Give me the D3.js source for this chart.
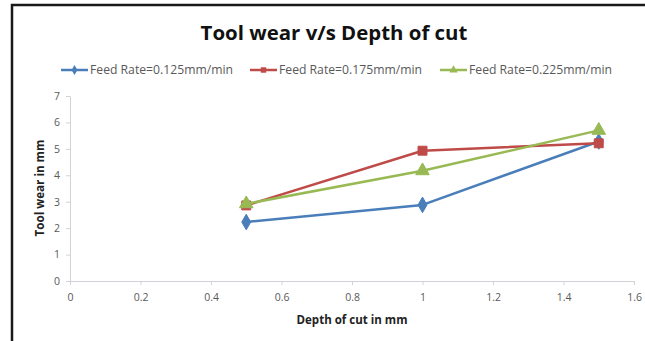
<!DOCTYPE html>
<html>
<head>
<meta charset="utf-8">
<script src="https://cdn.jsdelivr.net/npm/d3@7"></script>
<style>
  html, body { margin: 0; padding: 0; background: #fff; }
  svg { display: block; }
  text { font-family: "Open Sans", Lato, "Liberation Sans", sans-serif; }
</style>
</head>
<body>
<svg id="chart" width="645" height="341"></svg>
<script>
// Depth of cut (mm) at which tool wear was measured
const depthOfCut = [0.5, 1.0, 1.5];
// Tool wear (mm) for each feed rate
const wearFeed125 = [2.23, 2.88, 5.28];
const wearFeed175 = [2.86, 4.93, 5.21];
const wearFeed225 = [2.92, 4.17, 5.70];
const seriesNames = ["Feed Rate=0.125mm/min", "Feed Rate=0.175mm/min", "Feed Rate=0.225mm/min"];
const xTicks = [0, 0.2, 0.4, 0.6, 0.8, 1, 1.2, 1.4, 1.6];
const yTicks = [0, 1, 2, 3, 4, 5, 6, 7];

const colors = ["#4A7EBB", "#BE4B48", "#98B954"];
const symbols = [d3.symbolDiamond, d3.symbolSquare, d3.symbolTriangle];
const markerSize = [70, 80, 80];

const series = [wearFeed125, wearFeed175, wearFeed225].map((vals, i) => ({
  name: seriesNames[i],
  color: colors[i],
  symbol: symbols[i],
  size: markerSize[i],
  points: depthOfCut.map((d, j) => ({ x: d, y: vals[j] }))
}));

const svg = d3.select("#chart");

// Scale a text's font size so it spans the given width
function fitWidth(sel, width) {
  const node = sel.node();
  const fs = parseFloat(sel.attr("font-size"));
  const w = node.getComputedTextLength();
  if (w > 0) sel.attr("font-size", (fs * width / w).toFixed(2));
  return sel;
}

// Outer frame of the chart area
svg.append("rect")
  .attr("x", 12).attr("y", 5)
  .attr("width", 660).attr("height", 360)
  .attr("fill", "#fff")
  .attr("stroke", "#1a1a1a")
  .attr("stroke-width", 2.5);

const x = d3.scaleLinear().domain([0, 1.6]).range([70, 634]);
const y = d3.scaleLinear().domain([0, 7]).range([281, 96]);

// Title
const title = svg.append("text")
  .attr("x", 334).attr("y", 40)
  .attr("text-anchor", "middle")
  .attr("font-size", 20)
  .attr("font-weight", "bold")
  .attr("fill", "#111")
  .text("Tool wear v/s Depth of cut");
fitWidth(title, 267);

// Axes
const axisColor = "#d4d0d8";
const tickColor = "#595959";

const xAxis = svg.append("g")
  .attr("transform", `translate(0,${y(0)})`)
  .call(d3.axisBottom(x).tickValues(xTicks).tickSize(4).tickSizeOuter(0)
    .tickFormat(d => String(d)));
const yAxis = svg.append("g")
  .attr("transform", `translate(${x(0)},0)`)
  .call(d3.axisLeft(y).tickValues(yTicks).tickSize(4).tickSizeOuter(0)
    .tickFormat(d => String(d)));

[xAxis, yAxis].forEach(g => {
  g.select(".domain").attr("stroke", axisColor).attr("stroke-width", 1);
  g.selectAll(".tick line").attr("stroke", axisColor);
  g.selectAll(".tick text")
    .attr("fill", tickColor)
    .attr("font-size", 10.5)
    .attr("font-family", "'Open Sans', Lato, sans-serif");
});
xAxis.selectAll(".tick text").attr("dy", "1.2em");
yAxis.selectAll(".tick text").attr("x", -10);

// Axis titles
const xTitle = svg.append("text")
  .attr("x", 352).attr("y", 324)
  .attr("text-anchor", "middle")
  .attr("font-size", 10)
  .attr("font-weight", "bold")
  .attr("fill", "#222")
  .text("Depth of cut in mm");
fitWidth(xTitle, 111);

const yTitle = svg.append("text")
  .attr("transform", `translate(44,188) rotate(-90)`)
  .attr("text-anchor", "middle")
  .attr("font-size", 10)
  .attr("font-weight", "bold")
  .attr("fill", "#222")
  .text("Tool wear in mm");
fitWidth(yTitle, 97);

// Lines and markers
const line = d3.line().x(d => x(d.x)).y(d => y(d.y));

series.forEach(s => {
  const g = svg.append("g");
  g.append("path")
    .datum(s.points)
    .attr("d", line)
    .attr("fill", "none")
    .attr("stroke", s.color)
    .attr("stroke-width", 2.5)
    .attr("stroke-linejoin", "round");
  g.selectAll("path.marker")
    .data(s.points)
    .join("path")
    .attr("class", "marker")
    .attr("transform", d => `translate(${x(d.x)},${y(d.y)})`)
    .attr("d", d3.symbol().type(s.symbol).size(s.size))
    .attr("fill", s.color)
    .attr("stroke", s.color)
    .attr("stroke-width", 1);
});

// Legend
const legendX = [61, 250, 440];
const legend = svg.append("g");
series.forEach((s, i) => {
  const g = legend.append("g").attr("transform", `translate(${legendX[i]},70)`);
  g.append("line")
    .attr("x1", 0).attr("x2", 27).attr("y1", 0).attr("y2", 0)
    .attr("stroke", s.color).attr("stroke-width", 2.5);
  g.append("path")
    .attr("transform", "translate(13.5,0)")
    .attr("d", d3.symbol().type(s.symbol).size(30))
    .attr("fill", s.color);
  const t = g.append("text")
    .attr("x", 29).attr("y", 0)
    .attr("dy", "0.35em")
    .attr("font-size", 10.5)
    .attr("fill", "#595959")
    .text(s.name);
  fitWidth(t, 143);
});
</script>
</body>
</html>
